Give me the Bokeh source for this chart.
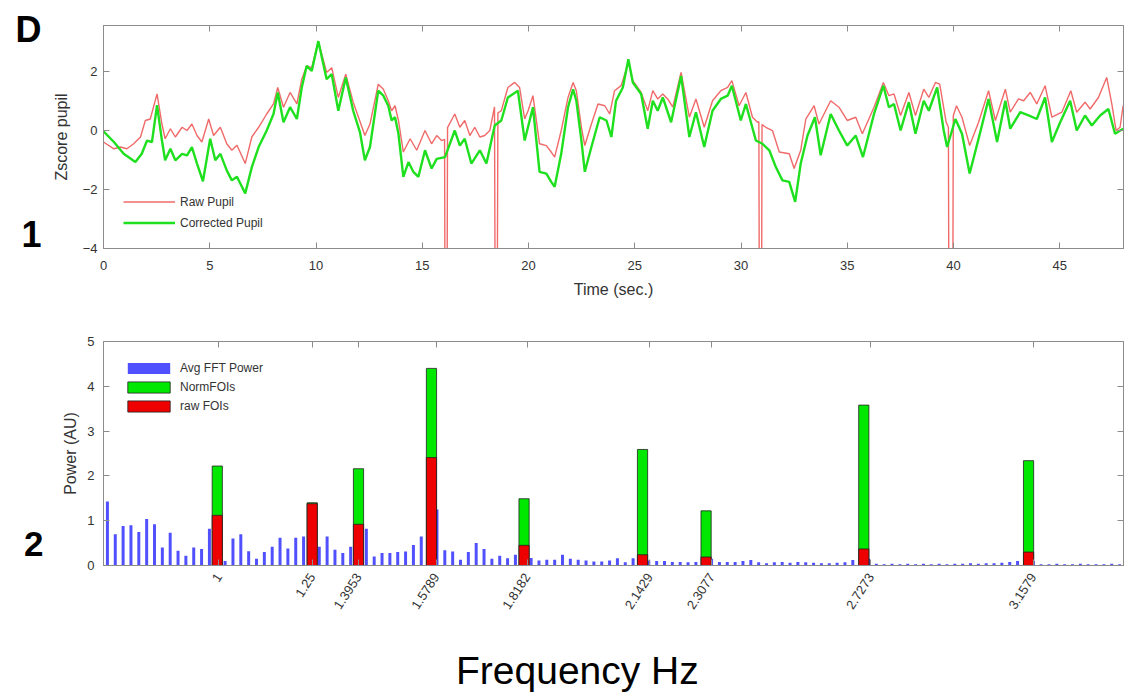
from bokeh.plotting import figure
from bokeh.models import Range1d, LinearAxis, FixedTicker, Legend, LegendItem
from bokeh.layouts import column
from bokeh.embed import file_html
from bokeh.resources import INLINE

# ---------------- data: panel 1 (pupil z-score vs time) ----------------
raw_t = [0, 0.49, 0.8, 1.1, 1.42, 1.74, 1.97, 2.2, 2.52, 2.75, 2.9, 3.15, 3.38, 3.7, 3.93, 4.16, 4.4, 4.63,
         4.95, 5.18, 5.5, 5.8, 6.04, 6.28, 6.67, 6.98, 7.3, 7.68, 8.0, 8.2, 8.47, 8.78, 9.1, 9.33, 9.56, 9.8,
         10.11, 10.5, 10.74, 11.05, 11.4, 11.75, 12.0, 12.3, 12.54, 12.93, 13.17, 13.4, 13.56, 13.72, 13.88,
         14.11, 14.43, 14.74, 15.13, 15.44, 15.68, 15.91, 16.05, 16.08, 16.16, 16.19, 16.53, 16.77, 17.0,
         17.24, 17.47, 17.71, 17.94, 18.18, 18.4, 18.44, 18.52, 18.56, 18.72, 19.03, 19.35, 19.58, 19.82,
         19.98, 20.21, 20.52, 20.84, 21.07, 21.23, 21.54, 21.86, 22.1, 22.25, 22.49, 22.65, 22.96, 23.27,
         23.59, 23.82, 24.05, 24.36, 24.7, 24.91, 25.3, 25.61, 25.85, 26.08, 26.32, 26.55, 26.79, 27.18,
         27.57, 27.88, 28.27, 28.66, 29.05, 29.37, 29.57, 29.91, 30.23, 30.54, 30.78, 30.84, 30.87, 30.96,
         30.99, 31.17, 31.48, 31.8, 32.27, 32.5, 32.81, 33.05, 33.44, 33.67, 34.22, 34.61, 35.0, 35.4, 35.71,
         36.26, 36.7, 36.96, 37.2, 37.51, 37.9, 38.21, 38.6, 38.84, 39.15, 39.35, 39.65, 39.76, 39.79, 39.96,
         39.99, 40.14, 40.4, 40.76, 41.18, 41.65, 41.97, 42.44, 42.67, 43.06, 43.3, 43.61, 43.92, 44.31,
         44.63, 45.1, 45.52, 45.8, 46.19, 46.43, 46.82, 47.21, 47.45, 47.65, 47.84, 47.98]
raw_z = [-0.39, -0.62, -0.56, -0.62, -0.45, -0.22, 0.34, 0.39, 1.24, 0.22, -0.28, 0.06, -0.22, 0.11, 0.0, 0.22,
         -0.17, -0.39, 0.39, -0.17, 0.11, -0.45, -0.67, -0.5, -1.12, -0.22, 0.11, 0.56, 0.9, 1.46, 0.79, 1.29,
         0.9, 1.74, 2.19, 2.13, 3.03, 1.97, 2.13, 1.12, 1.91, 0.96, 0.45, -0.17, 0.22, 1.57, 1.4, 1.01, 0.67,
         0.84, 0.34, -0.73, -0.28, -0.67, 0.0, -0.45, -0.17, -0.34, -0.3, -8.0, -8.0, 0.1, 0.56, 0.11, 0.34,
         -0.17, 0.11, -0.22, -0.17, 0.0, 0.8, -8.0, -8.0, 0.6, 0.67, 1.46, 1.63, 1.46, 0.39, 0.67, 1.18,
         -0.45, -0.51, -0.73, -0.9, 0.0, 1.12, 1.63, 1.35, 0.11, -0.51, 0.22, 0.9, 0.84, 0.56, 1.35, 1.52,
         2.3, 1.69, 1.29, 0.67, 1.35, 1.07, 1.24, 1.07, 0.79, 1.97, 0.45, 1.07, 0.11, 1.01, 1.35, 1.46, 1.69,
         0.84, 1.29, 0.45, 0.28, 0.3, -8.0, -8.0, 0.2, 0.11, 0.0, -0.73, -0.79, -1.29, -0.67, 0.39, 0.84,
         0.22, 1.01, 0.79, 0.34, 0.45, -0.11, 0.79, 1.63, 1.18, 1.24, 0.51, 1.29, 0.51, 1.4, 1.12, 1.63, 1.57,
         0.3, 0.11, -8.0, -8.0, 0.5, 0.84, 0.45, -0.51, 0.28, 1.35, 0.34, 1.4, 0.62, 1.07, 1.01, 1.29, 0.9,
         1.52, 0.45, 0.62, 1.35, 0.62, 0.96, 0.73, 1.12, 1.8, 0.9, 0.0, 0.11, 0.84]

cor_t = [0, 0.49, 0.95, 1.5, 1.8, 2.05, 2.28, 2.52, 2.75, 2.9, 3.15, 3.38, 3.7, 3.93, 4.16, 4.4, 4.68, 5.02,
         5.26, 5.5, 5.8, 6.04, 6.28, 6.67, 6.98, 7.3, 7.68, 8.0, 8.2, 8.47, 8.78, 9.1, 9.33, 9.56, 9.8, 10.11,
         10.5, 10.74, 11.05, 11.4, 11.75, 12.07, 12.3, 12.54, 12.93, 13.17, 13.4, 13.56, 13.72, 13.88, 14.11,
         14.35, 14.58, 14.82, 15.13, 15.44, 15.68, 16.07, 16.53, 16.77, 17.0, 17.31, 17.71, 18.02, 18.41,
         18.72, 19.03, 19.5, 19.82, 20.21, 20.52, 20.84, 21.07, 21.23, 21.54, 21.86, 22.1, 22.25, 22.49,
         22.65, 22.96, 23.35, 23.67, 23.9, 24.12, 24.44, 24.7, 24.91, 25.3, 25.61, 25.85, 26.08, 26.32,
         26.71, 27.18, 27.57, 27.88, 28.27, 28.66, 29.05, 29.37, 29.57, 29.99, 30.23, 30.7, 31.01, 31.33,
         31.64, 31.95, 32.27, 32.55, 32.81, 33.13, 33.48, 33.75, 34.22, 34.61, 35.0, 35.4, 35.74, 36.26,
         36.7, 36.96, 37.2, 37.51, 37.9, 38.21, 38.6, 38.84, 39.23, 39.54, 39.7, 40.09, 40.4, 40.76, 41.18,
         41.65, 42.05, 42.44, 42.67, 43.14, 43.53, 43.92, 44.31, 44.63, 45.02, 45.49, 45.8, 46.19, 46.51,
         46.9, 47.29, 47.6, 47.98]
cor_z = [-0.03, -0.39, -0.79, -1.07, -0.79, -0.34, -0.39, 0.86, -0.34, -1.01, -0.62, -1.01, -0.79, -0.84,
         -0.56, -1.12, -1.72, -0.28, -1.01, -0.79, -1.35, -1.69, -1.57, -2.13, -1.24, -0.56, 0.0, 0.56, 1.29,
         0.28, 0.79, 0.39, 1.46, 2.19, 2.02, 3.03, 1.74, 1.91, 0.67, 1.8, 0.67, -0.06, -1.01, -0.56, 1.35,
         1.18, 0.84, 0.34, 0.45, -0.11, -1.57, -1.07, -1.4, -1.57, -0.67, -1.29, -0.96, -0.9, 0.0, -0.51,
         -0.28, -1.12, -0.67, -1.12, 0.17, 0.34, 1.12, 1.35, -0.34, 0.79, -1.4, -1.46, -1.74, -1.91, -0.79,
         0.79, 1.4, 1.01, -0.34, -1.4, -0.56, 0.45, 0.34, -0.22, 1.01, 1.46, 2.42, 1.63, 1.24, 0.06, 1.01,
         0.67, 1.12, 0.28, 1.85, -0.22, 0.62, -0.56, 0.67, 1.07, 1.18, 1.52, 0.34, 0.9, -0.34, -0.45, -0.67,
         -1.24, -1.69, -1.74, -2.42, -1.12, -0.17, 0.45, -0.84, 0.56, 0.0, -0.51, -0.17, -0.9, 0.56, 1.52,
         0.79, 0.9, 0.0, 0.96, -0.11, 1.01, 0.67, 1.46, 0.0, -0.56, 0.39, -0.11, -1.46, -0.28, 1.07, -0.39,
         1.01, 0.06, 0.62, 0.51, 0.39, 1.12, -0.39, 0.28, 1.01, 0.0, 0.51, 0.17, 0.51, 0.73, -0.11, 0.06]

time_ticks = [0, 5, 10, 15, 20, 25, 30, 35, 40, 45]
z_ticks = [-4, -2, 0, 2]

# ---------------- data: panel 2 (FFT power) ----------------
avg_fft = [1.43, 0.70, 0.88, 0.90, 0.75, 1.04, 0.92, 0.40, 0.73, 0.33, 0.22, 0.40, 0.37, 0.82,
           0.60,
           0.10, 0.60, 0.70, 0.32, 0.15, 0.30, 0.42, 0.62, 0.38, 0.62, 0.65,
           0.50,
           0.42, 0.65, 0.35, 0.28, 0.42,
           0.50,
           0.82, 0.20, 0.28, 0.28, 0.30, 0.31, 0.46, 0.65,
           0.90,
           1.25, 0.34, 0.31, 0.13, 0.30, 0.50, 0.37, 0.15, 0.22, 0.16, 0.24,
           0.30,
           0.17, 0.11, 0.13, 0.13, 0.24, 0.15, 0.13, 0.11, 0.09, 0.09, 0.11, 0.16, 0.07, 0.16,
           0.15,
           0.11, 0.10, 0.10, 0.08, 0.08, 0.07, 0.08,
           0.12,
           0.15, 0.08, 0.08, 0.08, 0.10, 0.12, 0.07, 0.05, 0.07, 0.08, 0.06, 0.08, 0.07, 0.06, 0.05, 0.05,
           0.06, 0.07, 0.12,
           0.20,
           0.15, 0.04, 0.03, 0.04, 0.03, 0.04, 0.03, 0.04, 0.03, 0.04, 0.03, 0.04, 0.04, 0.05, 0.04, 0.05,
           0.05, 0.06, 0.08, 0.10,
           0.15,
           0.10, 0.03, 0.03, 0.04, 0.03, 0.03, 0.04, 0.03, 0.03, 0.03, 0.04, 0.03]
fft_bins = list(range(1, len(avg_fft) + 1))

foi_bin = [15.0, 27.1, 33.0, 42.3, 54.1, 69.2, 77.3, 97.4, 118.4]
foi_tick_pos = [15.2, 27.1, 33.0, 42.9, 54.5, 70.1, 78.0, 98.3, 119.0]
foi_labels = ["1", "1.25", "1.3953", "1.5789", "1.8182", "2.1429", "2.3077", "2.7273", "3.1579"]
norm_fois = [2.22, 1.40, 2.16, 4.40, 1.49, 2.59, 1.22, 3.58, 2.34]
raw_fois = [1.12, 1.38, 0.92, 2.41, 0.45, 0.24, 0.19, 0.37, 0.30]
power_ticks = [0, 1, 2, 3, 4, 5]

# ---------------- styling ----------------
FONT = "Liberation Sans"
TXT = "#333333"
FRAME = "#8c8c8c"
RED_LINE = "#f06a6a"
GREEN_LINE = "#1fe01f"
BLUE_BAR = "#5050ff"
GREEN_BAR = "#00e800"
RED_BAR = "#ee0000"


def style_axis(ax, ticks, labels=True, size="13px", standoff=6):
    ax.ticker = FixedTicker(ticks=ticks)
    ax.major_tick_in = 6
    ax.major_tick_out = 0
    ax.minor_tick_line_color = None
    ax.axis_line_color = FRAME
    ax.major_tick_line_color = FRAME
    ax.major_label_text_font = FONT
    if labels:
        ax.major_label_text_color = TXT
        ax.major_label_text_font_size = size
        ax.major_label_standoff = standoff
    else:
        ax.major_label_text_color = None
        ax.major_label_text_font_size = "1px"
        ax.major_label_standoff = 0


def text_axis(positions, texts, size, standoff, bold=True):
    """An axis with no line and no ticks, used only to place free text in the figure margin."""
    ax = LinearAxis(ticker=FixedTicker(ticks=positions))
    ax.major_label_overrides = {k: v for k, v in zip(positions, texts)}
    ax.axis_line_color = None
    ax.major_tick_line_color = None
    ax.minor_tick_line_color = None
    ax.major_tick_in = 0
    ax.major_tick_out = 0
    ax.major_label_standoff = standoff
    ax.major_label_text_font = FONT
    ax.major_label_text_font_size = size
    ax.major_label_text_font_style = "bold" if bold else "normal"
    ax.major_label_text_color = "black"
    return ax


# ---------------- panel 1 ----------------
p1 = figure(width=1125, height=318, x_range=Range1d(0, 48), y_range=Range1d(-4, 3.56),
            output_backend="svg", toolbar_location=None,
            min_border_left=103, min_border_right=2, min_border_top=25, min_border_bottom=70)
p1.grid.visible = False
p1.outline_line_color = FRAME

style_axis(p1.xaxis[0], time_ticks, standoff=12)
style_axis(p1.yaxis[0], z_ticks, standoff=6)
p1.xaxis[0].axis_label = "Time (sec.)"
p1.yaxis[0].axis_label = "Zscore pupil"
for ax in (p1.xaxis[0], p1.yaxis[0]):
    ax.axis_label_text_font = FONT
    ax.axis_label_text_font_style = "normal"
    ax.axis_label_text_font_size = "16px"
    ax.axis_label_text_color = TXT
p1.xaxis[0].axis_label_standoff = 8
p1.yaxis[0].axis_label_standoff = 10

ax_top1 = LinearAxis()
style_axis(ax_top1, time_ticks, labels=False)
p1.add_layout(ax_top1, "above")
ax_right1 = LinearAxis()
style_axis(ax_right1, z_ticks, labels=False)
p1.add_layout(ax_right1, "right")

# panel letters "D" and "1" in the left margin
p1.add_layout(text_axis([3.41, -3.54], ["D", "1"], "36px", 8), "left")

r_raw = p1.line(raw_t, raw_z, line_color=RED_LINE, line_width=1.4)
r_cor = p1.line(cor_t, cor_z, line_color=GREEN_LINE, line_width=2.4)

leg1 = Legend(items=[LegendItem(label="Raw Pupil", renderers=[r_raw]),
                     LegendItem(label="Corrected Pupil", renderers=[r_cor])],
              location=(20, 18), orientation="vertical")
leg1.background_fill_alpha = 0
leg1.border_line_color = None
leg1.padding = 0
leg1.margin = 0
leg1.spacing = 6
leg1.glyph_width = 52
leg1.glyph_height = 15
leg1.label_height = 15
leg1.label_standoff = 5
leg1.label_text_font = FONT
leg1.label_text_font_size = "12px"
leg1.label_text_color = TXT
p1.add_layout(leg1)

# ---------------- panel 2 ----------------
p2 = figure(width=1125, height=379, x_range=Range1d(0.5, len(avg_fft) + 0.5), y_range=Range1d(0, 5),
            output_backend="svg", toolbar_location=None,
            min_border_left=103, min_border_right=2, min_border_top=23, min_border_bottom=132)
p2.grid.visible = False
p2.outline_line_color = FRAME

style_axis(p2.xaxis[0], foi_tick_pos, standoff=9)
p2.xaxis[0].major_label_overrides = {k: v for k, v in zip(foi_tick_pos, foi_labels)}
p2.xaxis[0].major_label_orientation = 0.995
style_axis(p2.yaxis[0], power_ticks, standoff=9)
p2.yaxis[0].axis_label = "Power (AU)"
p2.yaxis[0].axis_label_text_font = FONT
p2.yaxis[0].axis_label_text_font_style = "normal"
p2.yaxis[0].axis_label_text_font_size = "16px"
p2.yaxis[0].axis_label_text_color = TXT
p2.yaxis[0].axis_label_standoff = 5

ax_top2 = LinearAxis()
style_axis(ax_top2, foi_tick_pos, labels=False)
p2.add_layout(ax_top2, "above")
ax_right2 = LinearAxis()
style_axis(ax_right2, power_ticks, labels=False)
p2.add_layout(ax_right2, "right")

# panel number "2" in the left margin, and the big "Frequency Hz" caption below
p2.add_layout(text_axis([0.47], ["2"], "35px", 16), "left")
p2.add_layout(text_axis([60.9], ["Frequency Hz"], "39px", 33, bold=False), "below")

r_blue = p2.vbar(x=fft_bins, top=avg_fft, width=0.38, fill_color=BLUE_BAR, line_color=None)
r_green = p2.vbar(x=foi_bin, top=norm_fois, width=1.3, fill_color=GREEN_BAR,
                  line_color="#222222", line_width=0.8)
r_red = p2.vbar(x=foi_bin, top=raw_fois, width=1.3, fill_color=RED_BAR,
                line_color="#222222", line_width=0.8)

leg2 = Legend(items=[LegendItem(label="Avg FFT Power", renderers=[r_blue]),
                     LegendItem(label="NormFOIs", renderers=[r_green]),
                     LegendItem(label="raw FOIs", renderers=[r_red])],
              location=(19, 152), orientation="vertical")
leg2.background_fill_alpha = 0
leg2.border_line_color = None
leg2.padding = 0
leg2.margin = 0
leg2.spacing = 5
leg2.glyph_width = 53
leg2.glyph_height = 14
leg2.label_height = 14
leg2.label_standoff = 5
leg2.label_text_font = FONT
leg2.label_text_font_size = "12px"
leg2.label_text_color = TXT
p2.add_layout(leg2)

layout = column(p1, p2, spacing=0)
open("out.html", "w").write(file_html(layout, INLINE))
